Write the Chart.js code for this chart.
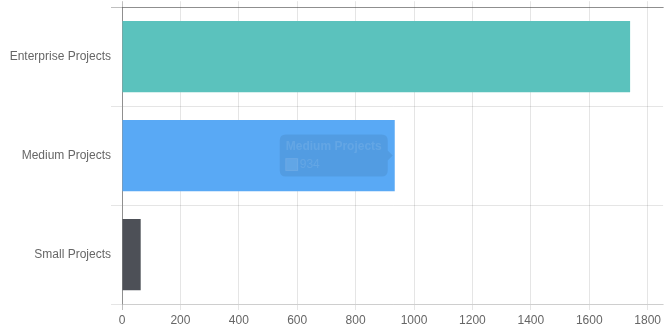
<!DOCTYPE html>
<html><head><meta charset="utf-8">
<script src="https://cdn.jsdelivr.net/npm/chart.js@4/dist/chart.umd.min.js"></script>
<style>html,body{margin:0;padding:0;background:#fff;overflow:hidden}canvas{display:block}</style>
</head><body>
<canvas id="c" width="664" height="332"></canvas>
<script>
const categories = ['Enterprise Projects', 'Medium Projects', 'Small Projects'];
const projectCounts = [1740, 934, 64];
const barColors = ['#5BC2BD', '#59A9F5', '#4D5057'];
const xTickStep = 200;
const xAxisMax = 1853;
const tooltipIndex = 1;

Chart.defaults.font.family = '"Liberation Sans", Arial, Helvetica, sans-serif';
Chart.defaults.font.size = 12;
Chart.defaults.color = '#666';

const light = 'rgba(0,0,0,0.1)';
const dark = 'rgba(0,0,0,0.25)';
const xGridColor = c => (c.tick && c.tick.value === 0) ? dark : light;

const chart = new Chart(document.getElementById('c'), {
  type: 'bar',
  data: {
    labels: categories,
    datasets: [{ data: projectCounts, backgroundColor: barColors, borderWidth: 0 }]
  },
  options: {
    indexAxis: 'y',
    responsive: false,
    animation: false,
    events: [],
    layout: { padding: { top: 0, right: 0, bottom: 1.6, left: 0 } },
    plugins: {
      legend: { display: false },
      tooltip: {
        enabled: true,
        xAlign: 'right',
        yAlign: 'center',
        backgroundColor: 'rgba(0,0,0,0.075)',
        titleColor: 'rgba(255,255,255,0.1)',
        bodyColor: 'rgba(255,255,255,0.1)',
        titleFont: { weight: 'bold', size: 12, lineHeight: 1 },
        bodyFont: { size: 12, lineHeight: 1 },
        padding: 6,
        titleMarginBottom: 6,
        caretSize: 5,
        caretPadding: 2,
        cornerRadius: 6,
        boxWidth: 12,
        boxHeight: 12,
        boxPadding: 0,
        multiKeyBackground: 'rgba(255,255,255,0.1)',
        callbacks: {
          labelColor: () => ({ borderColor: 'rgba(255,255,255,0.1)', backgroundColor: 'rgba(89,169,245,0.1)' })
        }
      }
    },
    scales: {
      x: {
        type: 'linear', position: 'bottom', min: 0, max: xAxisMax,
        grid: { color: xGridColor, tickLength: 6 },
        border: { color: light },
        ticks: { stepSize: xTickStep, includeBounds: false, padding: 3, callback: v => String(v) }
      },
      x2: {
        type: 'linear', position: 'top', min: 0, max: xAxisMax,
        grid: { color: xGridColor, tickLength: 6, drawOnChartArea: false },
        border: { color: dark },
        ticks: { display: false, stepSize: xTickStep, includeBounds: false }
      },
      y: {
        type: 'category',
        grid: { offset: true, tickLength: 11, color: c => c.index === 0 ? dark : light },
        border: { color: dark },
        ticks: { padding: 0 },
        afterFit: s => { s.width = 122; }
      }
    }
  }
});
chart.tooltip.setActiveElements([{ datasetIndex: 0, index: tooltipIndex }], { x: 0, y: 0 });
chart.update();
</script>
</body></html>
